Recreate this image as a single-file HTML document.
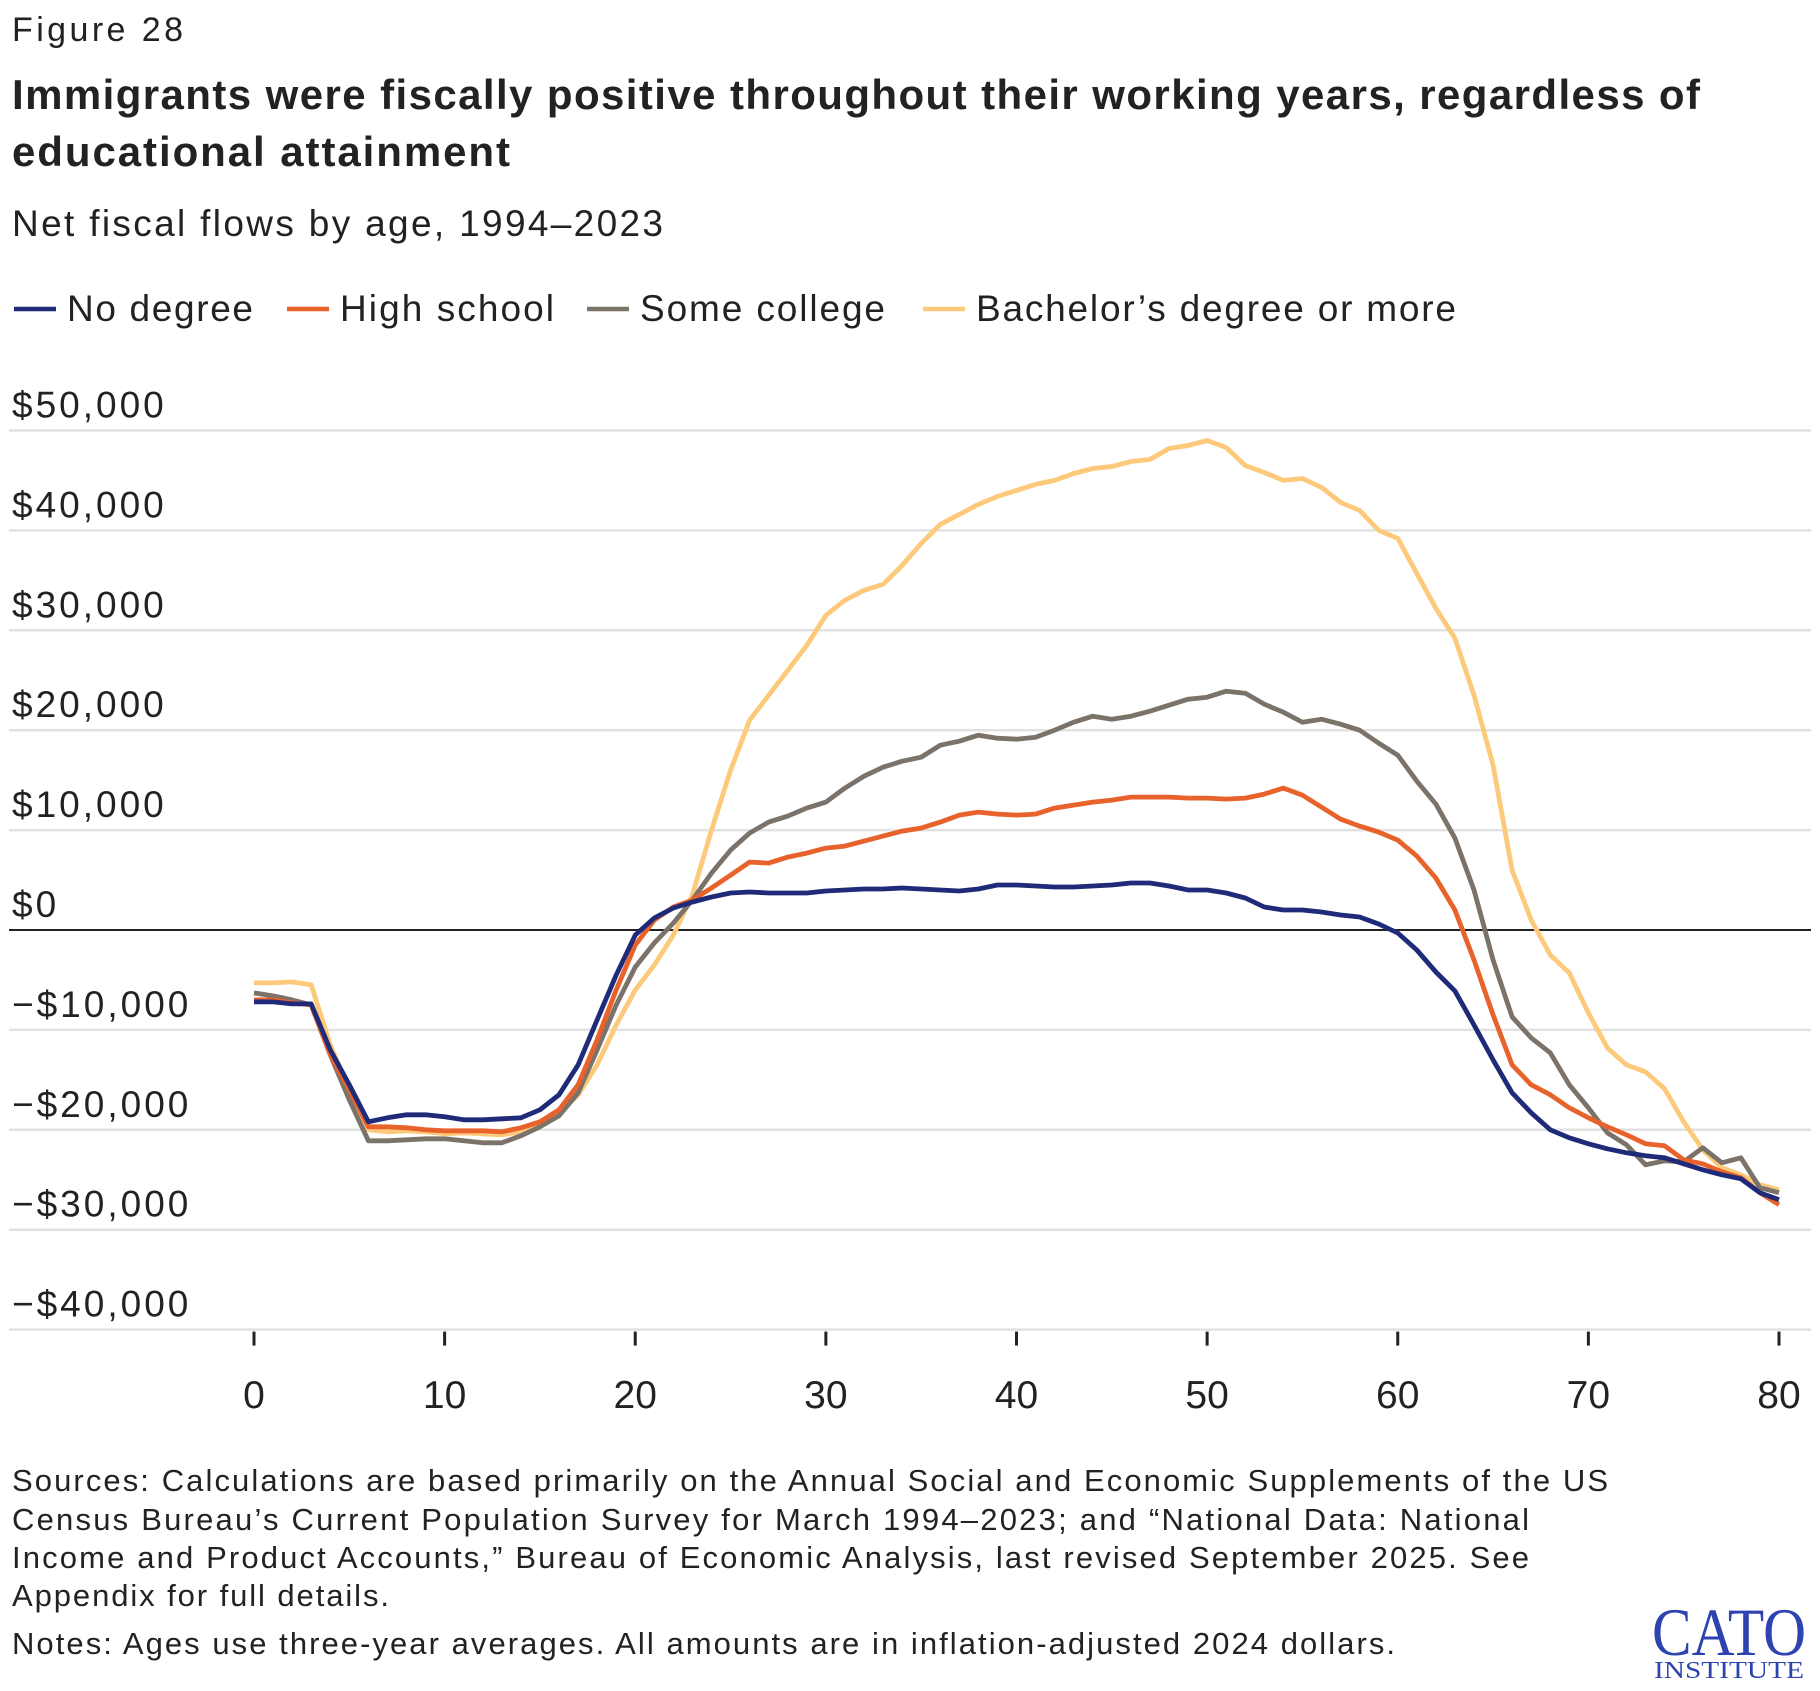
<!DOCTYPE html>
<html><head><meta charset="utf-8"><style>
html,body{margin:0;padding:0;background:#fff;}
svg{display:block;font-family:"Liberation Sans",sans-serif;}
</style></head><body>
<svg id="chart" width="1820" height="1691" viewBox="0 0 1820 1691" xmlns="http://www.w3.org/2000/svg">
<text x="12" y="41" font-size="34" fill="#222" textLength="171">Figure 28</text>
<text font-weight="bold" font-size="42" fill="#222">
<tspan x="12" y="109" textLength="1688">Immigrants were fiscally positive throughout their working years, regardless of</tspan>
<tspan x="12" y="166" textLength="498">educational attainment</tspan></text>
<text x="12" y="236" font-size="37" fill="#222" textLength="651">Net fiscal flows by age, 1994–2023</text>
<g id="legend"></g>
<g id="grid"></g>
<g id="yaxis"></g>
<g id="xaxis"></g>
<g id="series"></g>
<text font-size="31" fill="#222">
<tspan x="12" y="1491" textLength="1596">Sources: Calculations are based primarily on the Annual Social and Economic Supplements of the US</tspan>
<tspan x="12" y="1530" textLength="1517">Census Bureau’s Current Population Survey for March 1994–2023; and “National Data: National</tspan>
<tspan x="12" y="1568" textLength="1517">Income and Product Accounts,” Bureau of Economic Analysis, last revised September 2025. See</tspan>
<tspan x="12" y="1606" textLength="377">Appendix for full details.</tspan></text>
<text x="12" y="1654" font-size="31" fill="#222" textLength="1383">Notes: Ages use three-year averages. All amounts are in inflation-adjusted 2024 dollars.</text>
<g fill="#2d43b0" font-family="'Liberation Serif',serif">
<text x="1652" y="1655" font-size="68" textLength="154" lengthAdjust="spacingAndGlyphs">CATO</text>
<text x="1654" y="1678" font-size="24" textLength="150" lengthAdjust="spacingAndGlyphs">INSTITUTE</text>
</g>
</svg>
<script>
const ages = [];for(let a=0;a<=80;a++)ages.push(a);
const noDegree=[-7.2,-7.2,-7.4,-7.4,-12,-15.5,-19.2,-18.8,-18.5,-18.5,-18.7,-19,-19,-18.9,-18.8,-18,-16.5,-13.5,-9,-4.5,-0.5,1.2,2.2,2.8,3.3,3.7,3.8,3.7,3.7,3.7,3.9,4,4.1,4.1,4.2,4.1,4,3.9,4.1,4.5,4.5,4.4,4.3,4.3,4.4,4.5,4.7,4.7,4.4,4,4,3.7,3.2,2.3,2,2,1.8,1.5,1.3,0.6,-0.3,-2,-4.2,-6.1,-9.5,-13,-16.3,-18.3,-20,-20.8,-21.4,-21.9,-22.3,-22.6,-22.8,-23.4,-24,-24.5,-24.9,-26.3,-27];
const highSchool=[-7,-7,-7.3,-7.5,-12.5,-16,-19.7,-19.7,-19.8,-20,-20.1,-20.1,-20.1,-20.2,-19.8,-19.2,-18,-15.5,-11,-6,-1.5,1,2.3,3,4.2,5.5,6.8,6.7,7.3,7.7,8.2,8.4,8.9,9.4,9.9,10.2,10.8,11.5,11.8,11.6,11.5,11.6,12.2,12.5,12.8,13,13.3,13.3,13.3,13.2,13.2,13.1,13.2,13.6,14.2,13.5,12.3,11.1,10.4,9.8,9,7.4,5.2,2,-3,-8.5,-13.5,-15.5,-16.5,-17.8,-18.8,-19.7,-20.5,-21.4,-21.6,-23,-23.4,-24.2,-24.8,-26.3,-27.5];
const someCollege=[-6.3,-6.6,-7,-7.5,-12.5,-17,-21.1,-21.1,-21,-20.9,-20.9,-21.1,-21.3,-21.3,-20.6,-19.7,-18.6,-16.3,-12,-7.5,-3.7,-1.3,0.7,3,5.7,8,9.7,10.8,11.4,12.2,12.8,14.2,15.4,16.3,16.9,17.3,18.5,18.9,19.5,19.2,19.1,19.3,20,20.8,21.4,21.1,21.4,21.9,22.5,23.1,23.3,23.9,23.7,22.6,21.8,20.8,21.1,20.6,20,18.7,17.5,14.9,12.6,9.2,4,-3,-8.7,-10.8,-12.3,-15.5,-17.8,-20.3,-21.5,-23.5,-23.1,-23.2,-21.8,-23.3,-22.8,-25.8,-26.3];
const bachelors=[-5.3,-5.3,-5.2,-5.5,-11.5,-16,-20,-20.2,-20.1,-20.2,-20.4,-20.3,-20.4,-20.5,-20.2,-19.5,-18.4,-16.5,-13.5,-9.5,-6,-3.5,-0.5,3.5,10,16,21,23.5,26,28.5,31.5,33,34,34.6,36.5,38.7,40.6,41.6,42.6,43.4,44,44.6,45,45.7,46.2,46.4,46.9,47.1,48.2,48.5,49,48.3,46.5,45.8,45,45.2,44.3,42.8,42,40,39.2,35.7,32.2,29.2,23.5,16.5,6,1,-2.5,-4.3,-8.3,-11.8,-13.5,-14.2,-15.9,-19.2,-22,-23.8,-24.5,-25.5,-26];
const yTicks=[50,40,30,20,10,0,-10,-20,-30,-40];
const yTickLabels=["$50,000","$40,000","$30,000","$20,000","$10,000","$0","−$10,000","−$20,000","−$30,000","−$40,000"];
const xTicks=[0,10,20,30,40,50,60,70,80];
const seriesNames=["No degree","High school","Some college","Bachelor’s degree or more"];
const NS="http://www.w3.org/2000/svg";
const xS=a=>254+a*(1779-254)/80;
const yS=v=>930-v*9.99;
function mk(t,p,at){const e=document.createElementNS(NS,t);for(const k in at)e.setAttribute(k,at[k]);p.appendChild(e);return e;}
const grid=document.getElementById('grid'),ya=document.getElementById('yaxis'),xa=document.getElementById('xaxis'),sg=document.getElementById('series'),lg=document.getElementById('legend');
yTicks.forEach((v,i)=>{
 const l=mk('line',grid,{x1:9,x2:1811,y1:yS(v),y2:yS(v),stroke:v===0?'#222':'#e2e2e2','stroke-width':v===0?2:2.5});
 
 
 const t=mk('text',ya,{x:12,y:yS(v)-13,'font-size':37,fill:'#222','letter-spacing':3});
 t.textContent=yTickLabels[i];
 
 
});
xTicks.forEach(a=>{
 const l=mk('line',xa,{x1:xS(a),x2:xS(a),y1:yS(-40)+2,y2:yS(-40)+16,stroke:'#222','stroke-width':3});
 
 
 const t=mk('text',xa,{x:xS(a),y:1408,'font-size':39,fill:'#222','text-anchor':'middle'});
 t.textContent=String(a);
 
 
});
const data=[noDegree,highSchool,someCollege,bachelors];
const colors=['#1f2b78','#e8622c','#7b7269','#fdc97b'];
const lnames=['line-no-degree','line-high-school','line-some-college','line-bachelors'];
[3,2,1,0].forEach(i=>{
 const d=data[i].map((v,j)=>(j?'L':'M')+xS(ages[j]).toFixed(1)+','+yS(v).toFixed(1)).join('');
 const p=mk('path',sg,{d:d,fill:'none',stroke:colors[i],'stroke-width':4.8,'stroke-linejoin':'round'});
 
 
});
const lx=[14,287,587,923],tl=[186,214,245,480];
seriesNames.forEach((n,i)=>{
 const l=mk('line',lg,{x1:lx[i],x2:lx[i]+42,y1:309,y2:309,stroke:colors[i],'stroke-width':4.5});
 
 
 const t=mk('text',lg,{x:lx[i]+53,y:321,'font-size':37,fill:'#222',textLength:tl[i]});
 t.textContent=n;
 
 
});
</script>
</body></html>
